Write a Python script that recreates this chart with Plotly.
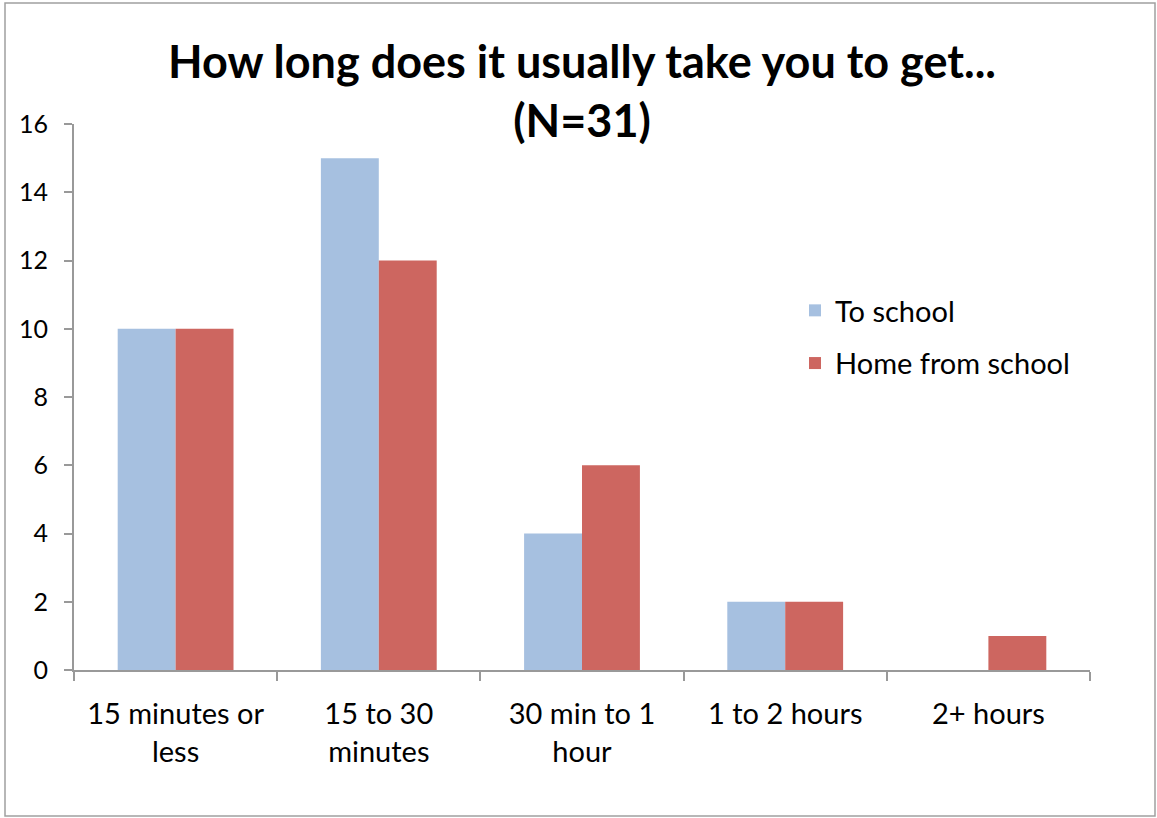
import plotly.graph_objects as go

categories = ["15 minutes or<br>less", "15 to 30<br>minutes", "30 min to 1<br>hour", "1 to 2 hours", "2+ hours"]
to_school = [10, 15, 4, 2, 0]
home_from_school = [10, 12, 6, 2, 1]
y_ticks = [0, 2, 4, 6, 8, 10, 12, 14, 16]

FONT = "Lato"
W, H = 1157, 818
L, R, T, B = 74, 67, 124, 148
pw, ph = W - L - R, H - T - B

def px_x(p):
    return (p - L) / pw

def px_y(p):
    return (H - B - p) / ph

fig = go.Figure()
fig.add_trace(go.Bar(x=categories, y=to_school, name="To school",
                     marker=dict(color="#A6C0E0", line=dict(width=0)),
                     legendgroup="a"))
fig.add_trace(go.Bar(x=categories, y=home_from_school, name="Home from school",
                     marker=dict(color="#CD6660", line=dict(width=0)),
                     legendgroup="b"))

fig.update_layout(
    width=W, height=H,
    margin=dict(l=L, r=R, t=T, b=B, autoexpand=False),
    paper_bgcolor="white", plot_bgcolor="white",
    barmode="group", bargap=0.43, bargroupgap=0,
    font=dict(family=FONT, size=29, color="black"),
    showlegend=True,
    legend=dict(x=px_x(795), y=px_y(285), xanchor="left", yanchor="top",
                font=dict(size=29, family=FONT), traceorder="grouped",
                tracegroupgap=12, bgcolor="rgba(0,0,0,0)",
                itemwidth=30),
    annotations=[dict(text="<b>How long does it usually take you to get...<br>(N=31)</b>",
                      xref="paper", yref="paper", x=0.5, y=px_y(90), xanchor="center",
                      yanchor="middle", showarrow=False,
                      font=dict(size=45, family=FONT, color="black"))],
    shapes=[dict(type="rect", xref="paper", yref="paper",
                 x0=px_x(5), x1=px_x(1155), y0=px_y(816), y1=px_y(3),
                 line=dict(color="#A0A0A0", width=1.5), layer="below")],
)

fig.update_xaxes(type="category", showline=True, linecolor="#999999", linewidth=2,
                 ticks="outside", tickson="boundaries", ticklen=9, tickwidth=2,
                 tickcolor="#999999", showgrid=False, zeroline=False,
                 ticklabelstandoff=17,
                 tickfont=dict(size=29, family=FONT))
fig.update_yaxes(range=[0, 16], tickvals=y_ticks, showline=True, linecolor="#999999",
                 linewidth=2, ticks="outside", ticklen=8, tickwidth=2, tickcolor="#999999",
                 showgrid=False, zeroline=False, ticklabelstandoff=11,
                 tickfont=dict(size=25, family=FONT))

fig.write_html("out.html", config={"displayModeBar": False},
               post_script="document.body.style.margin='0';document.body.style.padding='0';")
